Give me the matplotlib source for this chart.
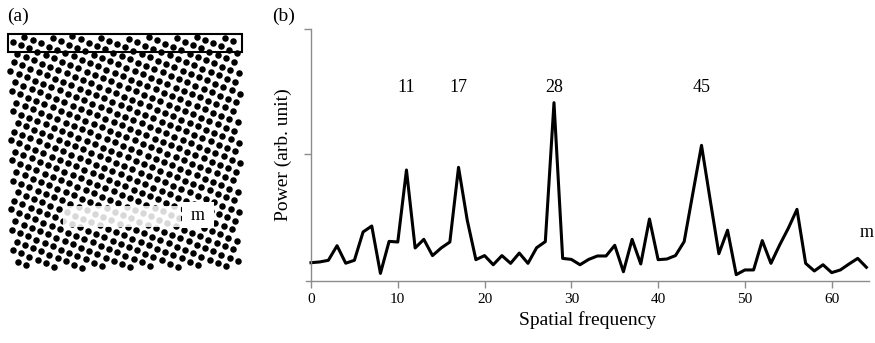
import numpy as np
import matplotlib
matplotlib.use('Agg')
import matplotlib.pyplot as plt
from matplotlib.patches import Rectangle

plt.rcParams['font.family'] = ['Liberation Serif', 'DejaVu Serif']

# spectrum
freq = list(range(65))
power = [0.144, 0.15, 0.163, 0.278, 0.14, 0.163, 0.386, 0.433, 0.06, 0.312,
         0.307, 0.874, 0.26, 0.328, 0.2, 0.26, 0.307, 0.895, 0.48, 0.168,
         0.2, 0.128, 0.2, 0.139, 0.22, 0.139, 0.262, 0.31, 1.404, 0.178,
         0.17, 0.128, 0.17, 0.197, 0.197, 0.281, 0.073, 0.328, 0.134, 0.488,
         0.168, 0.173, 0.2, 0.31, 0.69, 1.068, 0.638, 0.215, 0.4, 0.05,
         0.087, 0.087, 0.318, 0.139, 0.283, 0.415, 0.564, 0.139, 0.079, 0.128,
         0.066, 0.087, 0.134, 0.178, 0.108]
peak_labels = ['11', '17', '28', '45']
peak_pos = [11, 17, 28, 45]
xticks = [0, 10, 20, 30, 40, 50, 60]

W, H = 875, 343
fig = plt.figure(figsize=(W / 100, H / 100), dpi=100)

# ---- (a) dot lattice, pixel coordinates ----
axa = fig.add_axes([0, 0, 260 / W, 1])
axa.set_xlim(0, 260)
axa.set_ylim(H, 0)
axa.axis('off')

a1 = np.array([8.2, 3.3])
a2 = np.array([-3.5, 8.5])
pts = []
for i in range(-60, 60):
    for j in range(-60, 60):
        p = np.array([8, 30]) + i * a1 + j * a2
        if 10 <= p[0] <= 240 and 36 <= p[1] <= 268:
            pts.append(p)
pts = np.array(pts)
axa.scatter(pts[:, 0], pts[:, 1], s=22, c='black', linewidths=0)
axa.add_patch(Rectangle((8, 34), 234, 18, fill=False, ec='black', lw=1.5))
axa.add_patch(Rectangle((63, 206), 118, 21, fc='white', ec='none', alpha=0.85))
axa.add_patch(Rectangle((182, 202), 32, 26, fc='white', ec='none'))
axa.text(198, 215, 'm', ha='center', va='center', fontsize=13)
axa.text(7, 16, '(a)', ha='left', va='center', fontsize=14)

# ---- (b) spectrum ----
x0_px, x1_px = 305.8, 869
axb = fig.add_axes([x0_px / W, 62 / H, (x1_px - x0_px) / W, 252 / H])
axb.plot(freq, power, color='black', lw=2.2)
axb.set_xlim(-0.6, 64.3)
axb.set_ylim(0, 1.984)
axb.spines['left'].set_position(('data', 0))
for s in ['top', 'right']:
    axb.spines[s].set_visible(False)
for s in ['left', 'bottom']:
    axb.spines[s].set_color('#8c8c8c')
    axb.spines[s].set_linewidth(1.0)
axb.set_xticks(xticks)
axb.set_yticks([1, 1.984])
axb.set_yticklabels([])
axb.tick_params(axis='both', colors='#8c8c8c', length=5, width=1.0,
                labelcolor='black', labelsize=11)
axb.set_xlabel('Spatial frequency', fontsize=14, labelpad=4)
axb.set_ylabel('Power (arb. unit)', fontsize=14)
axb.yaxis.set_label_coords(-0.024, 0.5)
for lab, xp in zip(peak_labels, peak_pos):
    axb.text(xp, 1.52, lab, ha='center', va='center', fontsize=13)
axb.text(64, 0.38, 'm', ha='center', va='center', fontsize=13)
fig.text(272 / W, 1 - 16 / H, '(b)', ha='left', va='center', fontsize=14)

fig.savefig('out.png', dpi=100)
